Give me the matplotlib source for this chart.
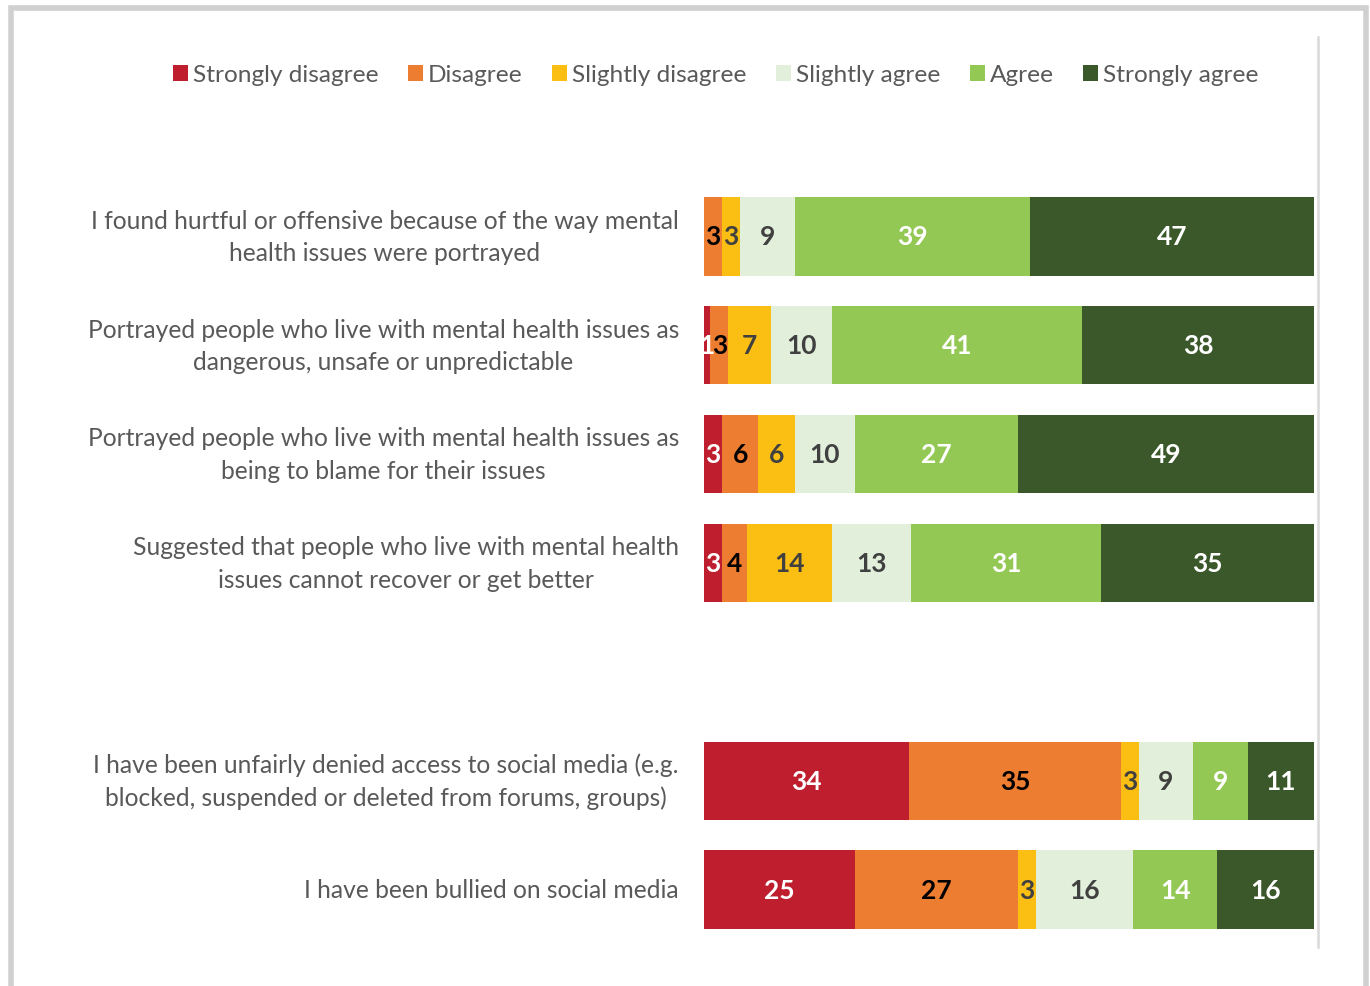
import matplotlib
matplotlib.use("Agg")
import matplotlib.pyplot as plt
from matplotlib.patches import Patch, Rectangle
from matplotlib.lines import Line2D
import numpy as np

plt.rcParams['font.family'] = ['Lato', 'DejaVu Sans']

# Survey statements (top to bottom) and response shares (%)
statements = [
    "I found hurtful or offensive because of the way mental\nhealth issues were portrayed",
    "Portrayed people who live with mental health issues as\ndangerous, unsafe or unpredictable",
    "Portrayed people who live with mental health issues as\nbeing to blame for their issues",
    "Suggested that people who live with mental health\nissues cannot recover or get better",
    "I have been unfairly denied access to social media (e.g.\nblocked, suspended or deleted from forums, groups)",
    "I have been bullied on social media",
]
responses = ["Strongly disagree", "Disagree", "Slightly disagree",
             "Slightly agree", "Agree", "Strongly agree"]

strongly_disagree = [0, 1, 3, 3, 34, 25]
disagree = [3, 3, 6, 4, 35, 27]
slightly_disagree = [3, 7, 6, 14, 3, 3]
slightly_agree = [9, 10, 10, 13, 9, 16]
agree = [39, 41, 27, 31, 9, 14]
strongly_agree = [47, 38, 49, 35, 11, 16]

colors = ["#BE1E2D", "#ED7D31", "#FBBF14", "#E2EFDA", "#92C853", "#3A5829"]
label_colors = ["white", "black", "#404040", "#404040", "white", "white"]

series = [strongly_disagree, disagree, slightly_disagree,
          slightly_agree, agree, strongly_agree]
data = np.array(series, dtype=float)          # shape (6 responses, 6 statements)
totals = data.sum(axis=0)
shares = data / totals * 100                   # 100% stacked

# Row positions with a blank slot separating the two groups of statements
ypos = np.array([0, 1, 2, 3, 5, 6])

fig = plt.figure(figsize=(13.7, 9.87), dpi=100)
ax = fig.add_axes([704 / 1370, 1 - 945 / 987, 610 / 1370, (945 - 183) / 987])

left = np.zeros(len(statements))
for i, (name, col, lcol) in enumerate(zip(responses, colors, label_colors)):
    widths = shares[i]
    ax.barh(ypos, widths, left=left, height=0.72, color=col,
            edgecolor='none', label=name)
    for y, l, w, v in zip(ypos, left, widths, data[i]):
        if v > 0:
            ax.text(l + w / 2, y, f"{int(v)}", ha='center', va='center',
                    fontsize=19, fontweight='bold', color=lcol)
    left += widths

ax.set_xlim(0, 100)
ax.set_ylim(6.5, -0.5)
ax.axis('off')

# Statement labels: right-aligned block, centred lines
for y, s in zip(ypos, statements):
    ax.text(-4.1, y, s, ha='right', va='center', multialignment='center',
            fontsize=17.7, color='#595959', linespacing=1.5)

# Legend across the top
handles = [Patch(facecolor=c, edgecolor='none') for c in colors]
fig.legend(handles, responses, loc='center', ncol=6,
           bbox_to_anchor=(716 / 1370, 1 - 76 / 987), frameon=False,
           fontsize=17.6, labelcolor='#595959', handlelength=0.6,
           handleheight=0.6, handletextpad=0.22, columnspacing=1.2)

# Outer frame and right-hand divider
fig.add_artist(Rectangle((10.5 / 1370, -0.05), (1366 - 10.5) / 1370, 1.05 - 8.5 / 987,
                         transform=fig.transFigure, fill=False,
                         edgecolor='#D0D0D0', linewidth=4))
fig.add_artist(Line2D([1318 / 1370, 1318 / 1370], [1 - 38 / 987, 1 - 948 / 987],
                      transform=fig.transFigure, color='#D9D9D9', linewidth=1.8))

fig.savefig("out.png", dpi=100, facecolor='white')
